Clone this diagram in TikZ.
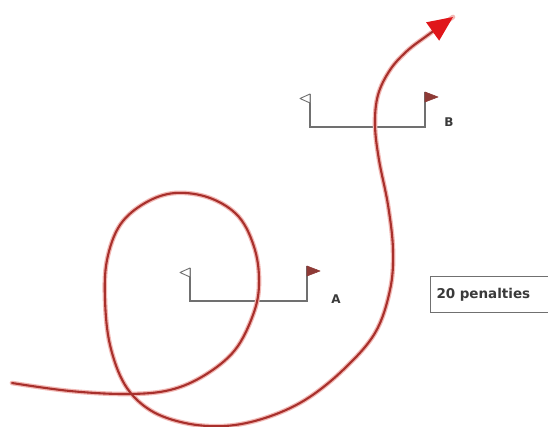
\documentclass[tikz,border=0pt]{standalone}
\usepackage{fontspec}
\setmainfont{DejaVu Sans}
\usetikzlibrary{arrows.meta}
\definecolor{pathred}{HTML}{A8302C}
\definecolor{halored}{HTML}{F2B8B4}
\definecolor{tipred}{HTML}{E0161A}
\definecolor{gatecol}{HTML}{707070}
\definecolor{flagred}{HTML}{8E3A36}
\definecolor{txtcol}{HTML}{3A3A3A}
\tikzset{
  gateline/.style={draw=gatecol, line width=1.4pt},
  whiteflag/.style={draw=gatecol, fill=white, line width=0.9pt, line join=round},
  redflag/.style={draw=flagred, fill=flagred, line width=0.6pt, line join=round},
  gatelabel/.style={text=txtcol, font=\fontsize{12}{14}\selectfont\bfseries, inner sep=0pt},
  penbox/.style={draw=gatecol, line width=1pt, fill=white, text=txtcol,
     font=\fontsize{13.5}{15}\selectfont\bfseries, anchor=north west, minimum height=36pt,
     minimum width=140pt, text width=128pt, inner xsep=6pt, align=left},
  halo/.style={draw=halored, line width=4.6pt, line cap=round, line join=round},
  course/.style={draw=pathred, line width=2.1pt, line cap=round, line join=round},
}
\begin{document}
\begin{tikzpicture}[x=1pt,y=-1pt]
\useasboundingbox (0,0) rectangle (548,427);
\fill[white] (0,0) rectangle (548,427);
\clip (0,0) rectangle (548,427);

% penalties box
\node[penbox] (pen) at (430,276) {20 penalties};

% gate A
\coordinate (a1) at (190,268);
\coordinate (a2) at (190,301);
\coordinate (a3) at (307,301);
\coordinate (a4) at (307,266);
\draw[gateline] (a1) -- (a2) -- (a3) -- (a4);
\draw[whiteflag] (a1) -- ++(0,9) -- ++(-10,-4.5) -- cycle;
\draw[redflag] (a4) -- ++(0,10) -- ++(13,-5) -- cycle;
\node[gatelabel] (la) at (336,299) {A};

% gate B
\coordinate (b1) at (310,94);
\coordinate (b2) at (310,127);
\coordinate (b3) at (425,127);
\coordinate (b4) at (425,92);
\draw[gateline] (b1) -- (b2) -- (b3) -- (b4);
\draw[whiteflag] (b1) -- ++(0,9) -- ++(-10,-4.5) -- cycle;
\draw[redflag] (b4) -- ++(0,10) -- ++(13,-5) -- cycle;
\node[gatelabel] (lb) at (449,122) {B};

% course
\def\coursepts{(12,383) (70,391) (127,394) (170,390) (205,375) (235,350) (253,315) (259,285) (255,250) (239,217) (210,198) (175,193) (145,203) (120,225) (107,260) (105,300) (110,345) (125,385) (150,410) (185,423) (225,426) (265,418) (305,400) (343,370) (375,333) (390,290) (393,250) (388,205) (379,160) (375,125) (378,95) (390,70) (407,51) (428,35) (453,17)}
\draw[halo] plot[smooth, tension=0.6] coordinates {\coursepts};
\draw[course, -{Triangle[length=25pt,width=22pt,color=tipred]}] plot[smooth, tension=0.6] coordinates {\coursepts};
\end{tikzpicture}
\end{document}
